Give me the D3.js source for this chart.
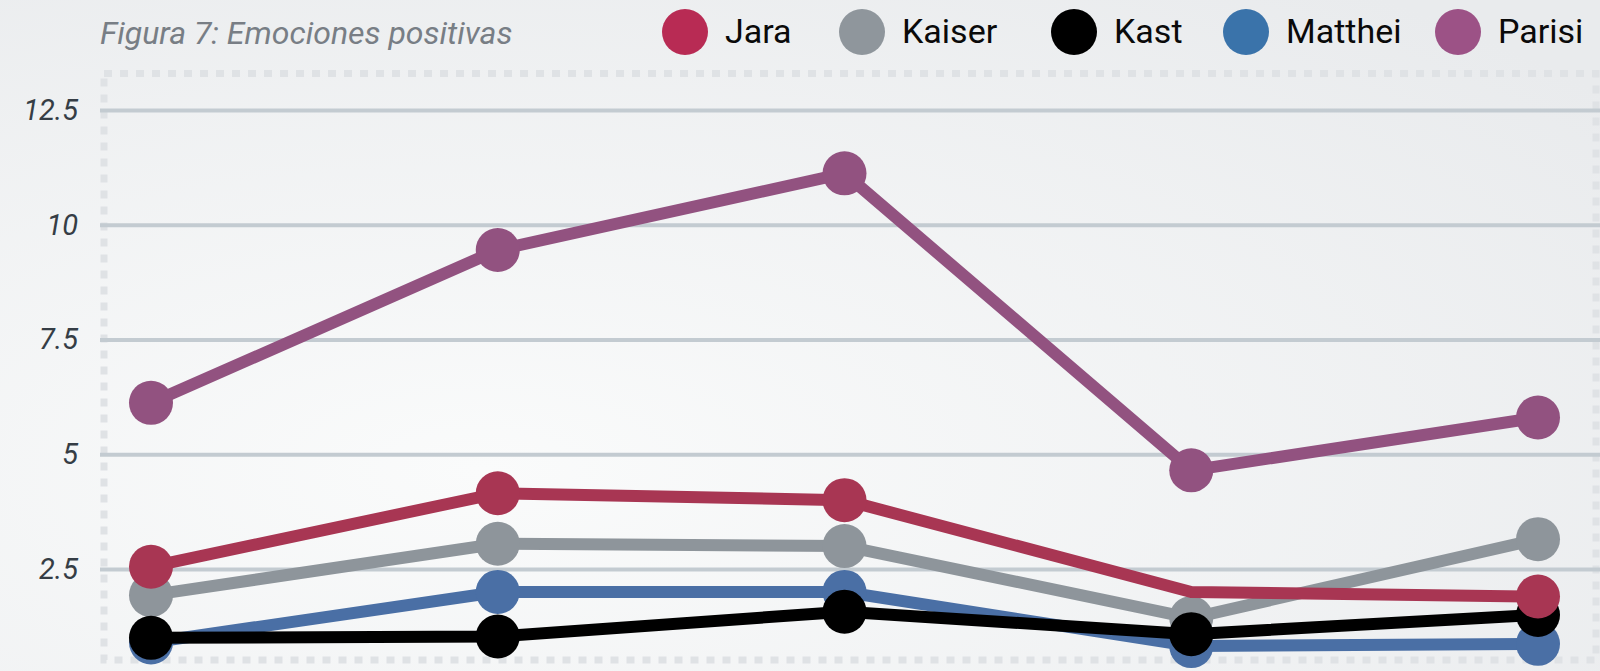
<!DOCTYPE html>
<html>
<head>
<meta charset="utf-8">
<script src="https://cdn.jsdelivr.net/npm/d3@7"></script>
<style>
  body { margin: 0; background: #f3f4f5; }
  svg { display: block; }
</style>
</head>
<body>
<script>
// data
var periods = ["1", "2", "3", "4", "5"];
var names = ["Jara", "Kaiser", "Kast", "Matthei", "Parisi"];
var jara = [2.55, 4.15, 4.0, 2.0, 1.9];
var kaiser = [1.93, 3.05, 3.0, 1.43, 3.15];
var kast = [1.0, 1.03, 1.57, 1.08, 1.5];
var matthei = [0.9, 2.0, 2.0, 0.82, 0.87];
var parisi = [6.12, 9.45, 11.12, 4.65, 5.8];
var yTicks = [2.5, 5, 7.5, 10, 12.5];
// markers that are not drawn in the original
var hiddenMarkers = [{name: "Jara", index: 3}];

var legendColors = ["#b82b54", "#8f969c", "#000000", "#3a73aa", "#9c5286"];
var lineColors = ["#a83653", "#8e959b", "#000000", "#4a6fa5", "#925280"];

var w = 1600, h = 671;

var svg = d3.select("body").append("svg")
            .attr("width", w)
            .attr("height", h);

// background gradient
var defs = svg.append("defs");
var grad = defs.append("radialGradient")
               .attr("id", "bg")
               .attr("cx", "0.3").attr("cy", "0.7").attr("r", "0.9");
grad.append("stop").attr("offset", "0%").attr("stop-color", "#fafbfb");
grad.append("stop").attr("offset", "100%").attr("stop-color", "#e9ebed");
svg.append("rect").attr("width", w).attr("height", h).attr("fill", "url(#bg)");

// scales
var xScale = d3.scalePoint().domain(periods).range([151, 1538]);
var yScale = d3.scaleLinear().domain([2.5, 12.5]).range([569, 110]);

// dotted frame
svg.append("rect")
   .attr("x", 104).attr("y", 73.5)
   .attr("width", 1492).attr("height", 586.5)
   .attr("fill", "none")
   .attr("stroke", "#dfe2e5")
   .attr("stroke-width", 7)
   .attr("stroke-dasharray", "8,8");

// gridlines + tick labels via axis
var yAxis = d3.axisLeft(yScale)
              .tickValues(yTicks)
              .tickSize(-1500)
              .tickPadding(22)
              .tickFormat(function(d) { return d; });
var gAxis = svg.append("g")
               .attr("transform", "translate(100,0)")
               .call(yAxis);
gAxis.select(".domain").remove();
gAxis.selectAll("line")
     .attr("stroke", "#c3cbd1")
     .attr("stroke-width", 4);
gAxis.selectAll("text")
     .attr("fill", "#353d45")
     .style("font-family", "Roboto, sans-serif")
     .style("font-style", "italic")
     .style("font-size", "29px");

// title
svg.append("text")
   .attr("x", 100).attr("y", 44)
   .text("Figura 7: Emociones positivas")
   .attr("fill", "#787e85")
   .style("font-family", "Roboto, sans-serif")
   .style("font-style", "italic")
   .style("font-size", "32px");

// legend
var legendCx = [685, 862, 1074, 1246, 1458];
names.forEach(function(name, i) {
  svg.append("circle")
     .attr("cx", legendCx[i]).attr("cy", 32)
     .attr("r", 23)
     .attr("fill", legendColors[i]);
  svg.append("text")
     .attr("x", legendCx[i] + 40).attr("y", 43)
     .text(name)
     .attr("fill", "#0a0a0a")
     .style("font-family", "Roboto, sans-serif")
     .style("font-size", "34px");
});

// series, drawn bottom to top
var seriesValues = {Jara: jara, Kaiser: kaiser, Kast: kast, Matthei: matthei, Parisi: parisi};
var drawOrder = ["Matthei", "Kaiser", "Kast", "Jara", "Parisi"];

var line = d3.line()
             .x(function(d, i) { return xScale(periods[i]); })
             .y(function(d) { return yScale(d); });

drawOrder.forEach(function(name) {
  var idx = names.indexOf(name);
  var values = seriesValues[name];
  var g = svg.append("g");
  g.append("path")
   .attr("d", line(values))
   .attr("fill", "none")
   .attr("stroke", lineColors[idx])
   .attr("stroke-width", 12)
   .attr("stroke-linejoin", "round");
  values.forEach(function(v, i) {
    var hidden = hiddenMarkers.some(function(m) { return m.name == name && m.index == i; });
    if (hidden) return;
    g.append("circle")
     .attr("cx", xScale(periods[i]))
     .attr("cy", yScale(v))
     .attr("r", 22)
     .attr("fill", lineColors[idx]);
  });
});
</script>
</body>
</html>
